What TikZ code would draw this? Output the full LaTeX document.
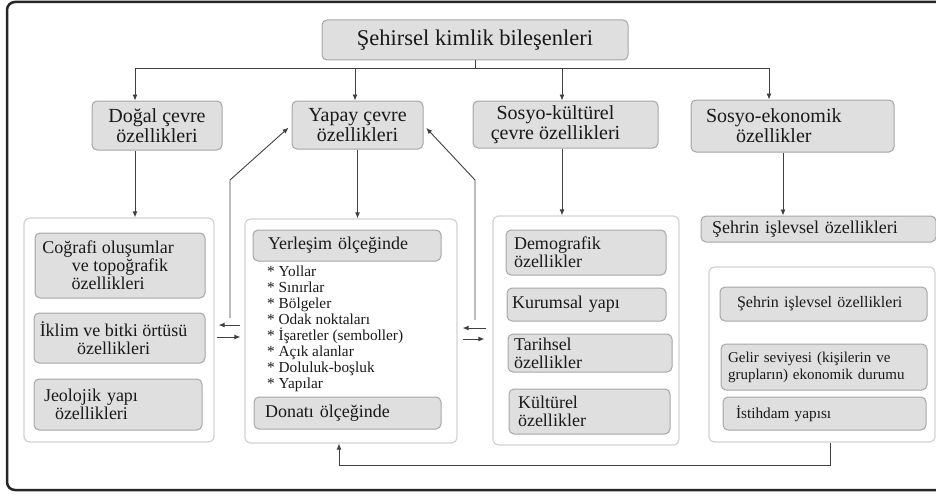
\documentclass[tikz,border=0pt]{standalone}
\usepackage{fontspec}
\setmainfont{Liberation Serif}
\newfontfamily\tms{Liberation Serif}
\usetikzlibrary{arrows.meta}
\begin{document}
\begin{tikzpicture}[x=1pt,y=-1pt,
 gbox/.style={draw=gray!70, fill=gray!25, rounded corners=5pt, line width=1pt, inner sep=0pt, text=black!90, align=center},
 lt/.style={align=left, text width=#1},
 cont/.style={draw=gray!35, rounded corners=6pt, line width=1.2pt, inner sep=0pt},
 arr/.style={-{Latex[length=6pt,width=5pt]}, line width=0.9pt, draw=black!75},
 ln/.style={line width=0.9pt, draw=black!75},
 frame/.style={line width=2.5pt, draw=black!85, rounded corners=8pt},
 fta/.style={font=\tms\fontsize{22.5}{24}\selectfont},
 ftb/.style={font=\tms\fontsize{20}{20}\selectfont},
 ftc/.style={font=\tms\fontsize{18}{18}\selectfont},
 ftd/.style={font=\tms\fontsize{15.3}{16}\selectfont},
 fte/.style={font=\tms\fontsize{15}{17}\selectfont},
 ftf/.style={font=\tms\fontsize{16}{17}\selectfont},
]
\useasboundingbox (0,0) rectangle (936,495);
\clip (0,0) rectangle (936,495);
\draw[frame] (7,2) rectangle (960,490);

% containers
\node[cont, minimum width=190pt, minimum height=224pt] (c1) at (119,330) {};
\node[cont, minimum width=212pt, minimum height=224pt] (c2) at (351,331) {};
\node[cont, minimum width=186pt, minimum height=229pt] (c3) at (586,330.5) {};
\node[cont, minimum width=226pt, minimum height=175pt] (c4) at (822,354.5) {};

% top
\node[gbox, fta, minimum width=306pt, minimum height=40pt] (top) at (475,40) {Şehirsel kimlik bileşenleri};

% row 2
\node[gbox, ftb, minimum width=130pt, minimum height=49pt] (dogal) at (157,125.5) {Doğal çevre\\özellikleri};
\node[gbox, ftb, minimum width=131pt, minimum height=48pt] (yapay) at (357.5,125) {Yapay çevre\\özellikleri};
\node[gbox, ftb, minimum width=185pt, minimum height=47pt] (soskul) at (565.5,124.5) {Sosyo-kültürel\hspace*{20pt}\\çevre özellikleri\hspace*{20pt}};
\node[gbox, ftb, lt=173pt, minimum width=203pt, minimum height=52pt] (soseko) at (792.5,126) {Sosyo-ekonomik\\\hspace*{30pt}özellikler};

% left container
\node[gbox, ftc, minimum width=170pt, minimum height=65pt] (cog) at (120,265.5) {Coğrafi oluşumlar\hspace*{24pt}\\ve topoğrafik\hspace*{24pt}\\özellikleri\hspace*{24pt}};
\node[gbox, ftc, minimum width=171pt, minimum height=50pt] (iklim) at (119.5,338) {İklim ve bitki örtüsü\hspace*{12pt}\\özellikleri\hspace*{12pt}};
\node[gbox, ftc, lt=148pt, minimum width=168pt, minimum height=51pt] (jeo) at (118,404.5) {Jeolojik yapı\\\hspace*{11pt}özellikleri};

% middle container
\node[gbox, ftc, lt=158pt, minimum width=188pt, minimum height=31pt] (yer) at (347,245.5) {Yerleşim ölçeğinde};
\node[ftd, align=left, inner sep=0pt, anchor=north west, text=black!90] (list) at (267,265.5) {* Yollar\\* Sınırlar\\* Bölgeler\\* Odak noktaları\\* İşaretler (semboller)\\* Açık alanlar\\* Doluluk-boşluk\\* Yapılar};
\node[gbox, ftc, lt=165pt, minimum width=187pt, minimum height=32pt] (don) at (347.5,413) {Donatı ölçeğinde};

% third container
\node[gbox, ftc, lt=144pt, minimum width=160pt, minimum height=45pt] (dem) at (586,252.5) {Demografik\\özellikler};
\node[gbox, ftc, lt=149pt, minimum width=159pt, minimum height=33pt] (kur) at (586.5,304.5) {Kurumsal yapı};
\node[gbox, ftc, lt=152pt, minimum width=164pt, minimum height=38pt] (tar) at (590,353) {Tarihsel\\özellikler};
\node[gbox, ftc, lt=143pt, minimum width=161pt, minimum height=45pt] (kul) at (589.5,411.5) {Kültürel\\özellikler};

% fourth column
\node[gbox, ftc, lt=213pt, minimum width=235pt, minimum height=26pt] (seh) at (818.5,229) {Şehrin işlevsel özellikleri};
\node[gbox, ftf, lt=173pt, minimum width=207pt, minimum height=34pt] (seh2) at (823.5,304) {Şehrin işlevsel özellikleri};
\node[gbox, fte, lt=192pt, minimum width=206pt, minimum height=46pt] (gel) at (824,367) {Gelir seviyesi (kişilerin ve\\grupların) ekonomik durumu};
\node[gbox, ftd, lt=177pt, minimum width=203pt, minimum height=33pt] (ist) at (824.5,413.5) {İstihdam yapısı};

% top bus
\coordinate (b1) at (135,68);
\coordinate (b2) at (355,68);
\coordinate (b3) at (562,68);
\coordinate (b4) at (769,68);
\draw[ln] (top.south) -- (top.south |- b1);
\draw[ln] (b1) -- (b4);
\draw[arr] (b1) -- (b1 |- dogal.north);
\draw[arr] (b2) -- (b2 |- yapay.north);
\draw[arr] (b3) -- (b3 |- soskul.north);
\draw[arr] (b4) -- (b4 |- soseko.north);

% row 2 down
\coordinate (v4) at (783,0);
\draw[arr] (b1 |- dogal.south) -- (b1 |- c1.north);
\draw[arr] (yapay.south) -- (yapay.south |- c2.north);
\draw[arr] (b3 |- soskul.south) -- (b3 |- c3.north);
\draw[arr] (v4 |- soseko.south) -- (v4 |- seh.north);

% side arrows
\coordinate (l1) at (0,325);
\coordinate (r1) at (0,337);
\coordinate (l2) at (0,328);
\coordinate (r2) at (0,339);
\draw[arr, shorten <=4pt, shorten >=4pt] (c2.west |- l1) -- (c1.east |- l1);
\draw[arr, shorten <=2pt, shorten >=4pt] (c1.east |- r1) -- (c2.west |- r1);
\draw[arr, shorten <=6pt, shorten >=5pt] (c3.west |- l2) -- (c2.east |- l2);
\draw[arr, shorten <=5pt, shorten >=8pt] (c2.east |- r2) -- (c3.west |- r2);

% diagonals
\coordinate (d1) at (230,318);
\coordinate (d1m) at (230,180);
\coordinate (d2) at (475,320);
\coordinate (d2m) at (475,180);
\draw[arr, shorten >=4pt] (d1) -- (d1m) -- (yapay.west);
\draw[arr, shorten >=4pt] (d2) -- (d2m) -- (yapay.east);

% feedback
\coordinate (f1) at (830,465);
\coordinate (fx) at (339,0);
\draw[arr] (c4.south -| f1) -- (f1) -- (f1 -| fx) -- (fx |- c2.south);
\end{tikzpicture}
\end{document}
